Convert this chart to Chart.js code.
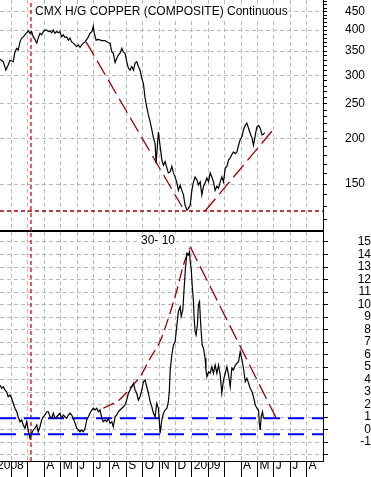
<!DOCTYPE html>
<html lang="en">
<head>
  <meta charset="UTF-8">
  <title>CMX H/G Copper - 30-10</title>
  <style>
    html, body { margin: 0; padding: 0; background: #fff; }
    .wrap { position: relative; width: 371px; height: 477px; overflow: hidden; }
    #topPanel { position: absolute; left: 0; top: 0; width: 371px; height: 232px; }
    #bottomPanel { position: absolute; left: 0; top: 232px; width: 371px; height: 245px; }
  </style>
  <script src="https://cdn.jsdelivr.net/npm/chart.js"></script>
</head>
<body>
<div class="wrap">
  <canvas id="topPanel" width="371" height="232"></canvas>
  <canvas id="bottomPanel" width="371" height="245"></canvas>
</div>
<script>
  // x values are months counted from Jan 1 2008 (0 = Jan 08, 12 = Jan 09)
  const monthTicks  = [0, 1, 2, 3, 4, 5, 6, 7, 8, 9, 10, 11, 12, 13, 14, 15, 16, 17, 18, 19];
  const monthLabels = ['2008', '', '', 'A', 'M', 'J', 'J', 'A', 'S', 'O', 'N', 'D',
                       '2009', '', '', 'A', 'M', 'J', 'J', 'A'];

  // copper price (log scale panel)
  const copperMonths = [0.30, 0.50, 0.66, 0.80, 0.91, 1.11, 1.21, 1.32, 1.41, 1.52, 1.62, 1.72, 1.82, 1.93, 2.02,
    2.13, 2.23, 2.33, 2.43, 2.54, 2.63, 2.74, 2.84, 2.94, 3.04, 3.15, 3.25, 3.35, 3.45, 3.55, 3.65, 3.76, 3.86,
    3.96, 4.06, 4.16, 4.26, 4.37, 4.47, 4.57, 4.67, 4.77, 4.88, 4.98, 5.08, 5.18, 5.28, 5.38, 5.49, 5.59, 5.69,
    5.79, 5.90, 5.99, 6.05, 6.16, 6.30, 6.51, 6.71, 6.91, 7.01, 7.12, 7.21, 7.32, 7.42, 7.52, 7.62, 7.73, 7.82,
    7.93, 8.03, 8.13, 8.23, 8.34, 8.44, 8.54, 8.64, 8.74, 8.84, 8.95, 9.05, 9.15, 9.25, 9.35, 9.46, 9.56, 9.66,
    9.76, 9.82, 9.96, 10.07, 10.17, 10.27, 10.37, 10.48, 10.57, 10.68, 10.78, 10.88, 10.98, 11.09, 11.18, 11.29,
    11.39, 11.49, 11.59, 11.70, 11.79, 11.90, 12.00, 12.10, 12.20, 12.31, 12.40, 12.51, 12.61, 12.71, 12.81,
    12.92, 13.02, 13.12, 13.22, 13.32, 13.42, 13.53, 13.63, 13.73, 13.83, 13.93, 14.04, 14.14, 14.24, 14.34,
    14.44, 14.54, 14.65, 14.75, 14.85, 14.95, 15.06, 15.15, 15.26, 15.36, 15.46, 15.56, 15.67, 15.76, 15.87,
    15.97, 16.07, 16.17, 16.28, 16.37, 16.44];
  const copperPrices = [332, 327, 310, 320, 330, 327, 348, 356, 352, 371, 380, 383, 388, 393, 398,
    392, 396, 383, 377, 368, 380, 392, 388, 396, 400, 400, 396, 398, 393, 400, 392, 396, 393,
    396, 383, 388, 382, 383, 375, 380, 371, 368, 364, 360, 364, 358, 364, 368, 371, 377, 383,
    392, 396, 410, 392, 375, 377, 374, 374, 369, 368, 348, 345, 325, 334, 341, 345, 356, 348,
    345, 327, 314, 310, 317, 310, 324, 327, 317, 310, 294, 284, 259, 245, 233, 223, 212, 201,
    194, 171, 209, 190, 175, 169, 173, 166, 161, 162, 168, 161, 157, 151, 144, 149,
    144, 140, 131, 127, 128.5, 131, 144, 152, 157, 154, 149, 152, 140, 148, 151,
    156, 152, 161, 157, 152, 144, 148, 146, 152, 157, 152, 166, 168, 175, 177,
    181, 184, 182, 184, 192, 199, 203, 212, 218, 221, 214, 207, 201, 192, 205,
    216, 218, 214, 205, 206, 208];
  const copperLabelValues = [150, 200, 250, 300, 350, 400, 450];

  // 30-10 oscillator panel
  const oscMonths = [0.30, 0.40, 0.50, 0.60, 0.70, 0.80, 0.91, 1.01, 1.11, 1.21, 1.32, 1.41, 1.52, 1.62, 1.72,
    1.82, 1.93, 2.02, 2.13, 2.23, 2.33, 2.43, 2.54, 2.63, 2.74, 2.84, 2.94, 3.04, 3.15, 3.25, 3.35, 3.45, 3.55,
    3.65, 3.76, 3.86, 3.96, 4.06, 4.16, 4.26, 4.37, 4.47, 4.57, 4.67, 4.77, 4.88, 4.98, 5.08, 5.18, 5.28, 5.38,
    5.49, 5.59, 5.69, 5.79, 5.90, 5.99, 6.10, 6.20, 6.30, 6.40, 6.51, 6.60, 6.71, 6.81, 6.91, 7.01, 7.12, 7.21,
    7.32, 7.42, 7.52, 7.62, 7.73, 7.82, 7.93, 8.03, 8.13, 8.23, 8.34, 8.44, 8.54, 8.64, 8.74, 8.84, 8.95, 9.05,
    9.15, 9.25, 9.35, 9.46, 9.56, 9.66, 9.76, 9.86, 9.96, 10.07, 10.17, 10.27, 10.37, 10.48, 10.57, 10.63, 10.68,
    10.78, 10.88, 10.98, 11.09, 11.18, 11.29, 11.35, 11.45, 11.53, 11.61, 11.70, 11.79, 11.86, 11.90, 11.96,
    12.02, 12.10, 12.14, 12.20, 12.26, 12.34, 12.40, 12.47, 12.51, 12.57, 12.63, 12.71, 12.81, 12.86, 12.92,
    13.02, 13.12, 13.22, 13.32, 13.42, 13.53, 13.63, 13.73, 13.83, 13.93, 14.04, 14.14, 14.24, 14.34, 14.44,
    14.54, 14.65, 14.75, 14.85, 14.95, 15.06, 15.15, 15.26, 15.36, 15.46, 15.56, 15.67, 15.76, 15.87, 15.97,
    16.07, 16.11, 16.17, 16.23, 16.31, 16.37, 16.48];
  const oscValues = [3.56, 3.30, 3.42, 3.16, 3.02, 2.62, 2.76, 2.50, 2.10, 1.70, 1.42, 1.02, 0.62, 0.76, 0.36,
    0.10, 0.62, -0.04, -0.70, -0.30, -0.04, 0.10, 0.36, -0.18, 0.22, 0.76, 1.02, 1.16, 1.42, 1.42, 1.02, 0.90, 1.30,
    0.90, 1.02, 1.16, 1.30, 0.90, 1.16, 1.02, 0.90, 1.16, 1.30, 1.16, 0.90, 0.50, 0.10, -0.04, -0.18, -0.04, -0.18,
    0.10, 0.76, 1.02, 1.30, 1.56, 1.70, 1.56, 1.70, 1.42, 1.56, 0.90, 0.62, 0.76, 0.62, 0.90, 0.50, 0.62, 0.22,
    1.02, 1.16, 1.42, 1.56, 1.70, 1.82, 1.96, 2.36, 2.90, 3.16, 3.42, 3.70, 3.16, 2.90, 2.36, 2.62, 3.16, 3.82,
    3.96, 3.42, 2.90, 2.22, 1.82, 1.30, 1.02, 2.10, 1.70, -0.30, 0.76, 1.30, 1.56, 1.70, 2.22, 3.16, 4.76,
    5.96, 6.76, 7.02, 8.36, 9.42, 9.82, 9.02, 9.56, 11.30, 12.90, 14.10, 13.96, 14.22, 13.42, 12.90,
    11.56, 10.22, 8.90, 7.82, 7.56, 8.36, 9.96, 10.22, 9.16, 7.82, 6.76, 6.50, 5.70, 4.76, 4.22,
    4.62, 4.50, 5.02, 4.50, 5.16, 4.50, 5.16, 4.36, 2.90, 3.96, 4.50, 5.02, 4.36, 3.42, 4.90,
    4.76, 5.16, 5.30, 5.42, 6.22, 5.56, 4.90, 3.82, 4.10, 3.70, 3.30, 3.02, 2.62, 1.96, 1.70,
    1.56, 0.62, -0.04, 1.02, 1.42, 0.90, 0.90];
  const oscTicks = [-2, -1, 0, 1, 2, 3, 4, 5, 6, 7, 8, 9, 10, 11, 12, 13, 14, 15];

  // hand drawn trend lines
  const copperFallMonths = [5.55, 11.41];
  const copperFallPrices = [371, 129.6];
  const copperRiseMonths = [12.81, 16.98];
  const copperRisePrices = [126.3, 212.5];
  const copperLowLevel = 126.3;
  const oscCurveMonths = [6.60, 7.62, 8.23, 8.84, 9.46, 10.07, 10.57, 11.09, 11.49, 11.86];
  const oscCurveValues = [1.70, 2.42, 3.32, 4.22, 5.70, 7.08, 8.90, 11.16, 13.16, 14.54];
  const oscFallMonths = [11.90, 17.29];
  const oscFallValues = [14.62, 0.54];
  const oscBandHigh = 0.9;
  const oscBandLow = -0.38;
  const markerMonth = 2.19;

  const X_MIN = 0.3, X_MAX = 20.0;
  const TOP_MIN = 111.2, TOP_MAX = 484.4;
  const OSC_MIN = -2.52, OSC_MAX = 15.8;

  const GRID = '#b9b9b9';
  const TREND = '#a00000';
  const FONT = "'Liberation Sans', Arial, sans-serif";

  Chart.defaults.font.family = FONT;
  Chart.defaults.font.size = 12;
  Chart.defaults.color = '#000';

  function pts(xs, ys) {
    return xs.map((x, i) => ({ x: x, y: ys[i] }));
  }

  function flat(value) {
    return [{ x: X_MIN, y: value }, { x: X_MAX, y: value }];
  }

  function lineSet(data, color, width, dash, extra) {
    return Object.assign({
      data: data,
      borderColor: color,
      borderWidth: width,
      borderDash: dash,
      pointRadius: 0,
      fill: false,
      tension: 0
    }, extra || {});
  }

  // caption text drawn on a white patch so the grid does not run through it
  const panelText = {
    id: 'panelText',
    beforeDatasetsDraw(chart, args, opts) {
      const ctx = chart.ctx;
      ctx.save();
      ctx.font = '12px ' + FONT;
      ctx.textBaseline = 'middle';
      const w = ctx.measureText(opts.text).width;
      const x = opts.center ? opts.x - w / 2 : opts.x;
      ctx.fillStyle = '#fff';
      ctx.fillRect(x - 1, opts.y - 7, w + 2, 14);
      ctx.fillStyle = '#000';
      ctx.fillText(opts.text, x, opts.y);
      ctx.restore();
    }
  };

  // right hand value axis: fixed width, no extra room above/below the plot
  function fitRightAxis(s) {
    s.width = 48;
    s.paddingTop = 0;
    s.paddingBottom = 0;
  }

  function monthAxis(showLabels) {
    return {
      type: 'linear',
      min: X_MIN,
      max: X_MAX,
      afterBuildTicks: s => { s.ticks = monthTicks.map(v => ({ value: v })); },
      afterFit: s => {
        s.height = showLabels ? 16 : 1;
        s.paddingLeft = 0;
        s.paddingRight = 0;
      },
      grid: {
        color: GRID,
        lineWidth: 1,
        drawTicks: showLabels,
        tickLength: 16,
        tickColor: '#000',
        tickWidth: 1,
        tickBorderDash: []
      },
      border: { display: true, color: '#000', width: showLabels ? 1 : 2, dash: [4, 3] },
      ticks: {
        display: showLabels,
        autoSkip: false,
        maxRotation: 0,
        minRotation: 0,
        align: 'start',
        labelOffset: 2,
        padding: -19,
        callback: (v, i) => monthLabels[i]
      }
    };
  }

  const baseOptions = {
    responsive: false,
    animation: false,
    events: [],
    layout: { padding: 0 },
    plugins: { legend: { display: false }, tooltip: { enabled: false } }
  };

  // ---- top panel: copper ----
  new Chart(document.getElementById('topPanel'), {
    type: 'line',
    data: {
      datasets: [
        lineSet(pts(copperMonths, copperPrices), '#000', 1.2, []),
        lineSet(pts(copperFallMonths, copperFallPrices), TREND, 1.3, [16, 6]),
        lineSet(pts(copperRiseMonths, copperRisePrices), TREND, 1.3, [16, 6]),
        lineSet(flat(copperLowLevel), TREND, 1.3, [4, 3]),
        lineSet([{ x: markerMonth, y: TOP_MIN }, { x: markerMonth, y: TOP_MAX }], '#e00000', 1.3, [4, 3])
      ]
    },
    options: Object.assign({}, baseOptions, {
      plugins: Object.assign({}, baseOptions.plugins, {
        panelText: { text: 'CMX H/G COPPER (COMPOSITE) Continuous', x: 35, y: 12, center: false }
      }),
      scales: {
        x: monthAxis(false),
        y: {
          type: 'logarithmic',
          position: 'right',
          min: TOP_MIN,
          max: TOP_MAX,
          afterFit: fitRightAxis,
          afterBuildTicks: s => {
            const t = [];
            for (let v = 120; v <= 480; v += 10) t.push({ value: v });
            s.ticks = t;
          },
          grid: {
            color: c => (c.tick && copperLabelValues.includes(c.tick.value)) ? GRID : 'rgba(0,0,0,0)',
            tickColor: '#000',
            tickLength: 4,
            tickBorderDash: []
          },
          border: { display: true, color: '#000', width: 1, dash: [4, 3] },
          ticks: {
            autoSkip: false,
            padding: 18,
            crossAlign: 'near',
            callback: v => copperLabelValues.includes(v) ? String(v) : ''
          }
        }
      }
    }),
    plugins: [panelText]
  });

  // ---- bottom panel: 30-10 ----
  new Chart(document.getElementById('bottomPanel'), {
    type: 'line',
    data: {
      datasets: [
        lineSet(pts(oscMonths, oscValues), '#000', 1.2, []),
        lineSet(pts(oscCurveMonths, oscCurveValues), TREND, 1.3, [12, 5], { cubicInterpolationMode: 'monotone' }),
        lineSet(pts(oscFallMonths, oscFallValues), TREND, 1.3, [16, 6]),
        lineSet(flat(oscBandHigh), '#0000ff', 2, [16, 8]),
        lineSet(flat(oscBandLow), '#0000ff', 2, [16, 8]),
        lineSet([{ x: markerMonth, y: OSC_MIN }, { x: markerMonth, y: OSC_MAX }], '#e00000', 1.3, [4, 3])
      ]
    },
    options: Object.assign({}, baseOptions, {
      plugins: Object.assign({}, baseOptions.plugins, {
        panelText: { text: '30- 10', x: 158, y: 9, center: true }
      }),
      scales: {
        x: monthAxis(true),
        y: {
          type: 'linear',
          position: 'right',
          min: OSC_MIN,
          max: OSC_MAX,
          afterFit: fitRightAxis,
          afterBuildTicks: s => { s.ticks = oscTicks.map(v => ({ value: v })); },
          grid: {
            color: GRID,
            tickColor: '#000',
            tickLength: 5,
            tickBorderDash: []
          },
          border: { display: true, color: '#000', width: 1, dash: [4, 3] },
          ticks: {
            autoSkip: false,
            padding: 25,
            crossAlign: 'far',
            callback: v => v === -2 ? '' : String(v)
          }
        }
      }
    }),
    plugins: [panelText]
  });
</script>
</body>
</html>
